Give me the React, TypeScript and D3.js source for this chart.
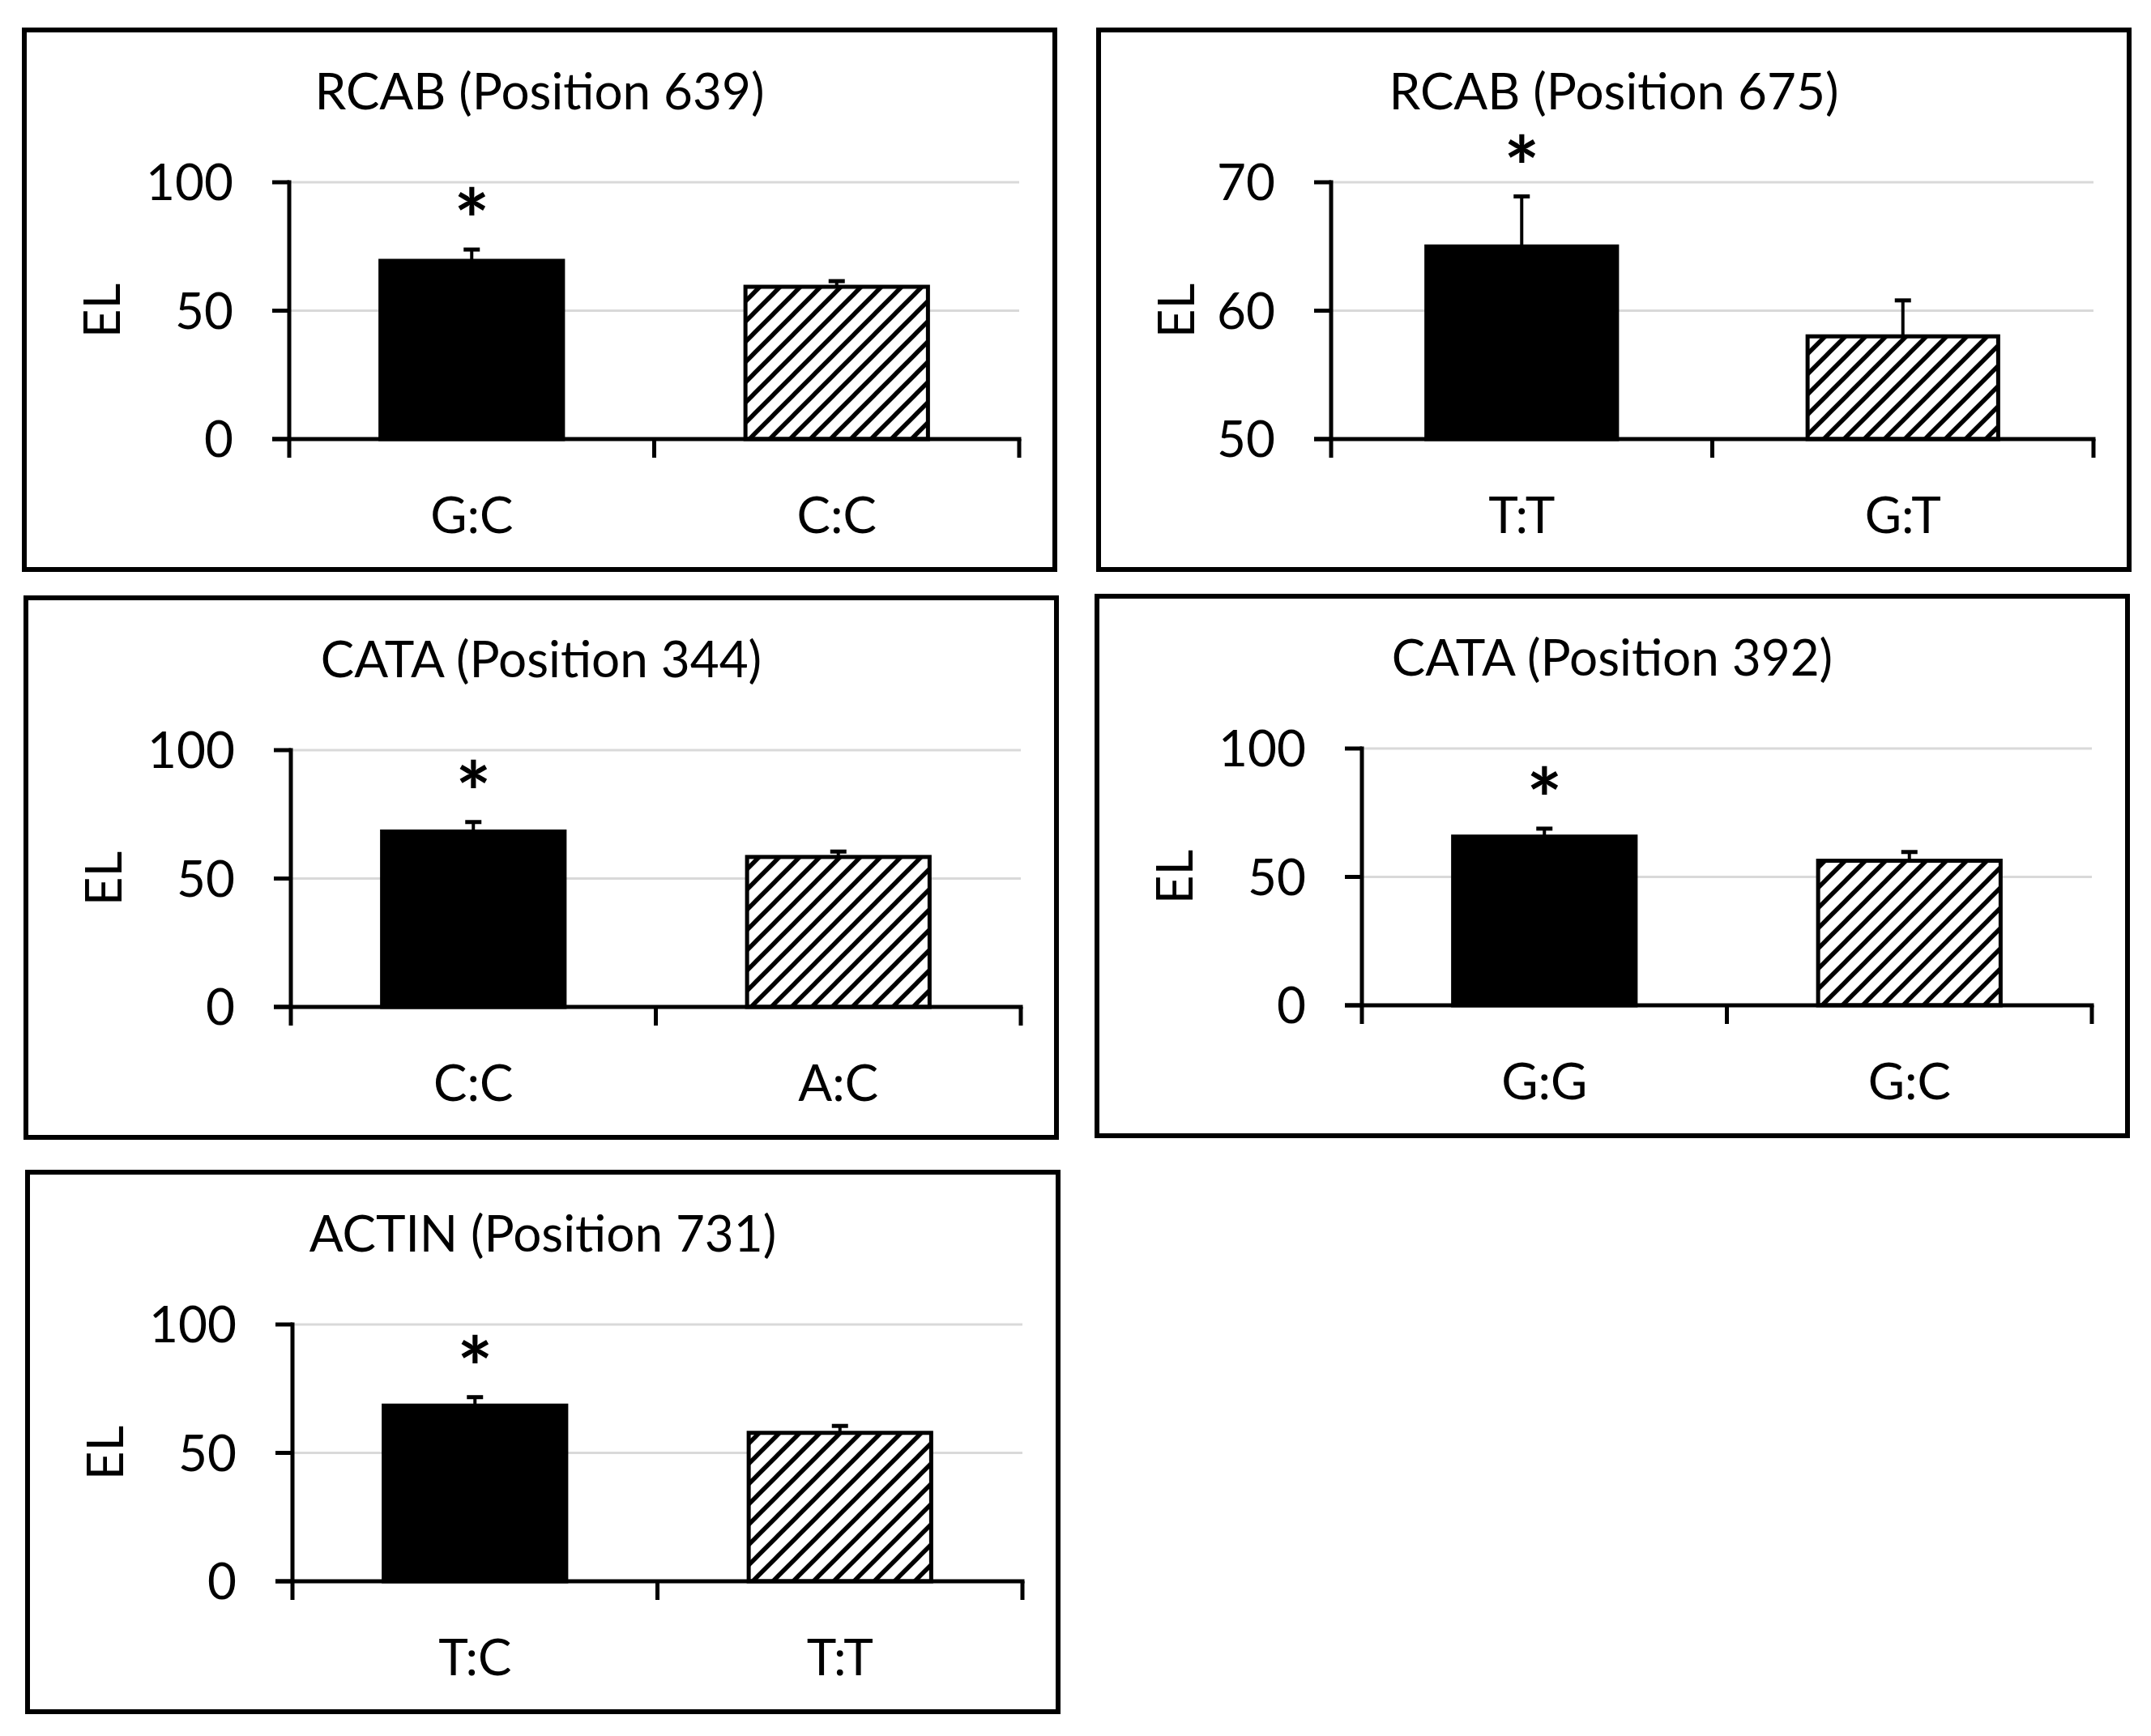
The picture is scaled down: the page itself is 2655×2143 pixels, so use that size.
import { useEffect } from "react";
import * as d3 from "d3";

const WIDTH = 2655;
const HEIGHT = 2143;
const FONT = "Lato, 'Open Sans', sans-serif";
const FS = 62;
const STAR_FS = 104;

// data, one entry per panel
const titles = [
  "RCAB (Position 639)",
  "RCAB (Position 675)",
  "CATA (Position 344)",
  "CATA (Position 392)",
  "ACTIN (Position 731)",
];
const genotypes = [
  ["G:C", "C:C"],
  ["T:T", "G:T"],
  ["C:C", "A:C"],
  ["G:G", "G:C"],
  ["T:C", "T:T"],
];
const meanEL = [
  [69.4, 59.3],
  [65.0, 58.0],
  [68.3, 58.4],
  [65.7, 56.3],
  [68.4, 57.8],
];
const errEL = [
  [4.4, 2.2],
  [3.9, 2.8],
  [3.7, 2.1],
  [3.1, 3.4],
  [3.3, 2.7],
];
// asterisk marks the first genotype in every panel
const significant = [
  [true, false],
  [true, false],
  [true, false],
  [true, false],
  [true, false],
];
const yDomains: [number, number][] = [
  [0, 100],
  [50, 70],
  [0, 100],
  [0, 100],
  [0, 100],
];
const yTicks = [
  [0, 50, 100],
  [50, 60, 70],
  [0, 50, 100],
  [0, 50, 100],
  [0, 50, 100],
];

// panel frames (layout)
const PANELS = [
  { x: 30, y: 37 },
  { x: 1356, y: 37 },
  { x: 32, y: 738 },
  { x: 1354, y: 736 },
  { x: 34, y: 1447 },
];
const PANEL_W = 1272;
const PANEL_H = 666;

type PanelProps = {
  x: number;
  y: number;
  title: string;
  cats: string[];
  means: number[];
  errs: number[];
  stars: boolean[];
  domain: [number, number];
  ticks: number[];
};

const Panel = ({ x, y, title, cats, means, errs, stars, domain, ticks }: PanelProps) => {
  const maxChars = d3.max(ticks, (t) => String(t).length) ?? 3;
  const left = 207 + 40 * maxChars;
  const right = PANEL_W - 44;
  const top = 188;
  const bottom = 505;

  const yScale = d3.scaleLinear().domain(domain).range([bottom, top]);
  const xScale = d3
    .scaleBand<string>()
    .domain(cats)
    .range([left, right])
    .paddingInner(0.5)
    .paddingOuter(0.25);
  const step = (right - left) / cats.length;
  const boundaries = d3.range(cats.length + 1).map((i) => left + i * step);

  return (
    <g transform={`translate(${x},${y})`}>
      <rect x={0} y={0} width={PANEL_W} height={PANEL_H} fill="#fff" stroke="#000" strokeWidth={6} />
      <text x={PANEL_W / 2} y={98} textAnchor="middle" fontSize={FS} fontFamily={FONT}>
        {title}
      </text>

      {/* gridlines */}
      {ticks
        .filter((t) => t !== domain[0])
        .map((t) => (
          <line key={t} x1={left} x2={right} y1={yScale(t)} y2={yScale(t)} stroke="#d9d9d9" strokeWidth={3} />
        ))}

      {/* bars */}
      {cats.map((c, i) => {
        const bx = xScale(c) ?? 0;
        const bw = xScale.bandwidth();
        const yTop = yScale(means[i]);
        const yErr = yScale(means[i] + errs[i]);
        const cx = bx + bw / 2;
        return (
          <g key={c}>
            <line x1={cx} x2={cx} y1={yTop} y2={yErr} stroke="#000" strokeWidth={4} />
            <line x1={cx - 10} x2={cx + 10} y1={yErr} y2={yErr} stroke="#000" strokeWidth={5} />
            <rect
              x={bx}
              y={yTop}
              width={bw}
              height={bottom - yTop}
              fill={i === 0 ? "#000" : "url(#hatch)"}
              stroke="#000"
              strokeWidth={5}
            />
            {stars[i] && (
              <text
                x={cx}
                y={yErr - 58 + STAR_FS * 0.57}
                textAnchor="middle"
                fontSize={STAR_FS}
                fontWeight="bold"
                fontFamily={FONT}
              >
                *
              </text>
            )}
          </g>
        );
      })}

      {/* y axis */}
      <line x1={left} x2={left} y1={top - 2.5} y2={bottom} stroke="#000" strokeWidth={5} />
      {ticks.map((t) => (
        <g key={t}>
          <line x1={left - 21} x2={left} y1={yScale(t)} y2={yScale(t)} stroke="#000" strokeWidth={5} />
          <text
            x={left - 69}
            y={yScale(t) + FS * 0.36}
            textAnchor="end"
            fontSize={FS}
            fontFamily={FONT}
          >
            {t}
          </text>
        </g>
      ))}
      <text
        transform={`translate(96,${(top + bottom) / 2}) rotate(-90)`}
        textAnchor="middle"
        dy={FS * 0.36}
        fontSize={FS}
        fontFamily={FONT}
      >
        EL
      </text>

      {/* x axis */}
      <line x1={left - 21} x2={right + 2.5} y1={bottom} y2={bottom} stroke="#000" strokeWidth={5} />
      {boundaries.map((bx, i) => (
        <line key={i} x1={bx} x2={bx} y1={bottom} y2={bottom + 23} stroke="#000" strokeWidth={5} />
      ))}
      {cats.map((c) => (
        <text
          key={c}
          x={(xScale(c) ?? 0) + xScale.bandwidth() / 2}
          y={bottom + 116}
          textAnchor="middle"
          fontSize={FS}
          fontFamily={FONT}
        >
          {c}
        </text>
      ))}
    </g>
  );
};

export default function App() {
  useEffect(() => {
    document.body.style.margin = "0";
  }, []);

  return (
    <svg width={WIDTH} height={HEIGHT} style={{ display: "block", background: "#fff" }}>
      <defs>
        <pattern id="hatch" patternUnits="userSpaceOnUse" width={25} height={25}>
          <rect width={25} height={25} fill="#fff" />
          <path d="M-6.25,6.25 L6.25,-6.25 M0,25 L25,0 M18.75,31.25 L31.25,18.75" stroke="#000" strokeWidth={5.5} />
        </pattern>
      </defs>
      <rect width={WIDTH} height={HEIGHT} fill="#fff" />
      {PANELS.map((p, i) => (
        <Panel
          key={i}
          x={p.x}
          y={p.y}
          title={titles[i]}
          cats={genotypes[i]}
          means={meanEL[i]}
          errs={errEL[i]}
          stars={significant[i]}
          domain={yDomains[i]}
          ticks={yTicks[i]}
        />
      ))}
    </svg>
  );
}
